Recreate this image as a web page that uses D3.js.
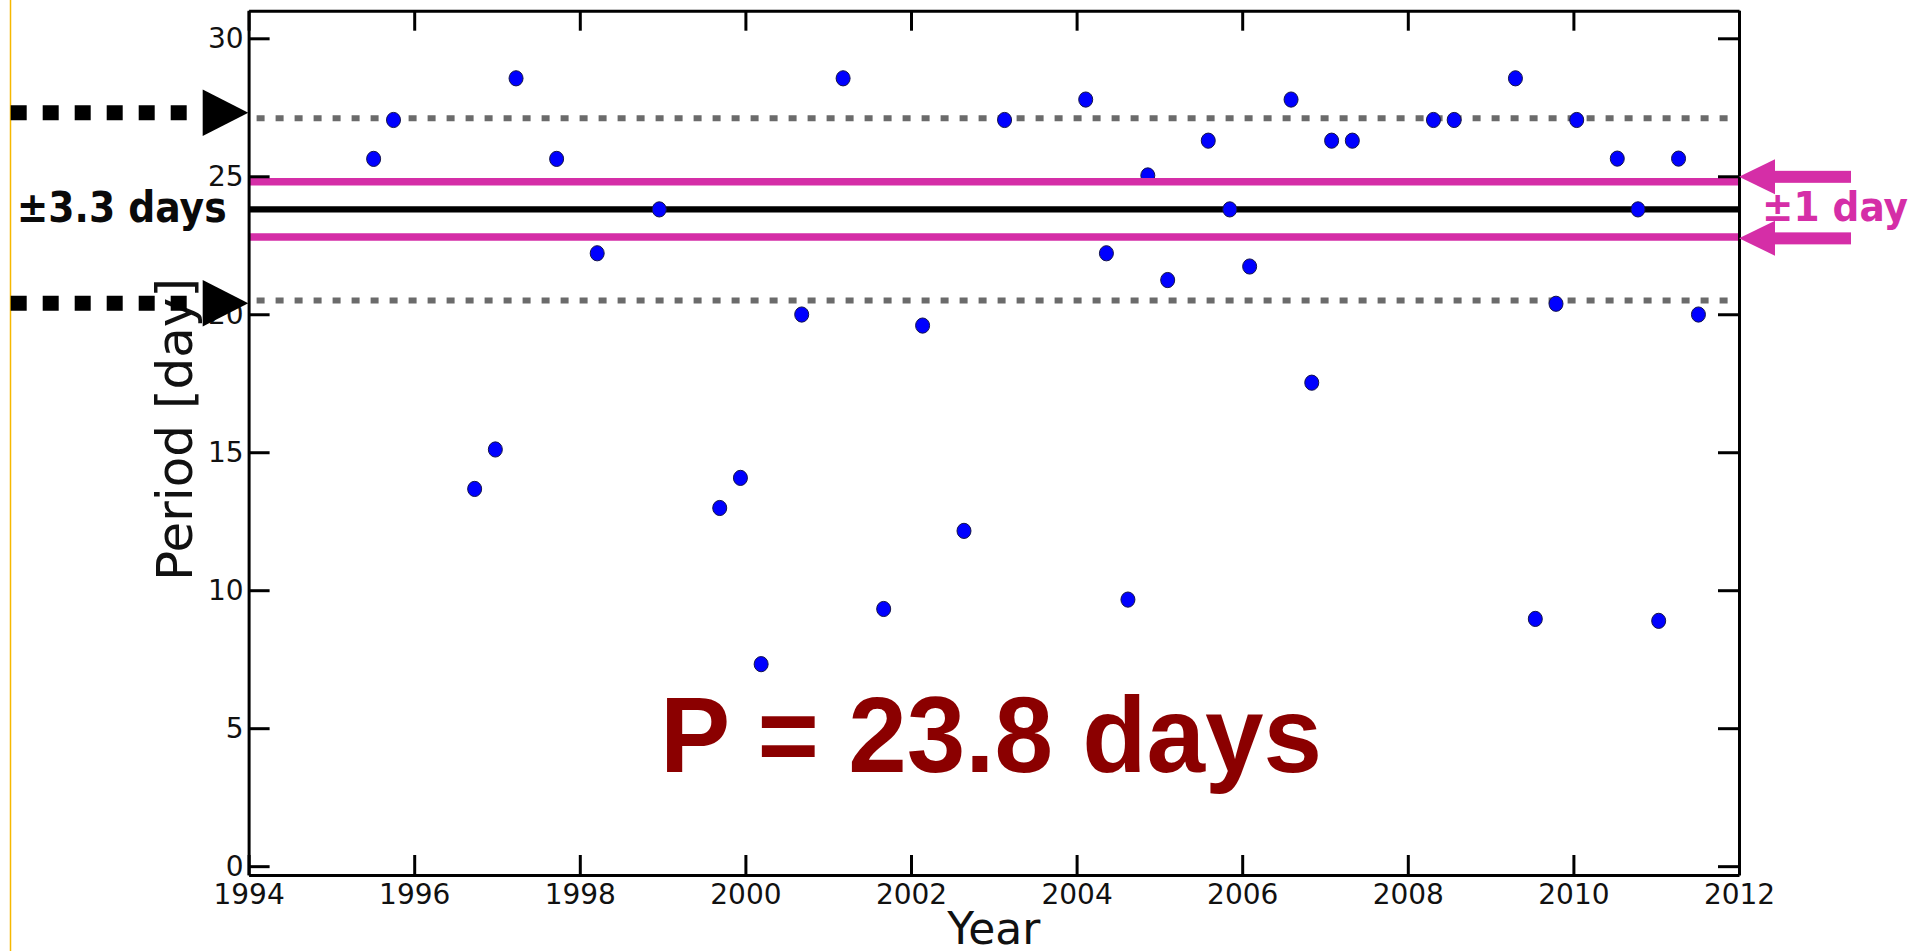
<!DOCTYPE html>
<html><head><meta charset="utf-8">
<script src="https://cdn.jsdelivr.net/npm/d3@7"></script>
<style>html,body{margin:0;padding:0;background:#fff;overflow:hidden}</style>
</head><body>
<svg id="chart" width="1930" height="951"></svg>
<script>
// ---- data ----
const years = [1995.51,1995.75,1996.73,1996.98,1997.23,1997.72,1998.21,1998.96,1999.69,1999.94,
  2000.19,2000.68,2001.18,2001.67,2002.14,2002.64,2003.13,2004.11,2004.36,2004.62,
  2004.86,2005.10,2005.59,2005.85,2006.09,2006.59,2006.84,2007.08,2007.33,2008.31,
  2008.56,2009.30,2009.54,2009.79,2010.04,2010.53,2010.78,2011.03,2011.27,2011.51];
const periods = [25.63,27.04,13.67,15.10,28.55,25.63,22.21,23.80,12.98,14.07,
  7.32,19.99,28.55,9.32,19.59,12.15,27.04,27.78,22.21,9.66,
  25.03,21.24,26.29,23.80,21.73,27.78,17.52,26.29,26.29,27.04,
  27.04,28.55,8.96,20.38,27.04,25.64,23.80,8.89,25.64,19.99];
const xTickValues = [1994,1996,1998,2000,2002,2004,2006,2008,2010,2012];
const yTickValues = [0,5,10,15,20,25,30];
const meanPeriod = 23.8;
const spread = 3.3;
const band = 1;
const leftArrowLevels = [27.3, 20.4];
const rightArrowLevels = [24.98, 22.75];
const mainLabel = "P = 23.8 days";
const spreadLabel = "±3.3 days";
const bandLabel = "±1 day";
const xTitle = "Year";
const yTitle = "Period [day]";

// ---- layout ----
const plot = {left:248.6, right:1739, top:10.7, bottom:875};
const magenta = "#d52ea7";
const svg = d3.select("#chart");
const x = d3.scaleLinear().domain([1994, 2012]).range([plot.left, plot.right]);
const y = d3.scaleLinear().domain([-0.32, 31]).range([plot.bottom, plot.top]);

// yellow edge line
svg.append("line").attr("x1",10.5).attr("x2",10.5).attr("y1",0).attr("y2",951)
  .attr("stroke","#f6b800").attr("stroke-width",1.5);

const g = svg.append("g");

// gray dotted +-spread lines
[meanPeriod + spread, meanPeriod - spread].forEach(v => {
  g.append("line").attr("x1", plot.left + 8).attr("x2", plot.right).attr("y1", y(v)).attr("y2", y(v))
    .attr("stroke","#6b6b6b").attr("stroke-width",6).attr("stroke-dasharray","8,11");
});
// black mean line
g.append("line").attr("x1", plot.left).attr("x2", plot.right).attr("y1", y(meanPeriod)).attr("y2", y(meanPeriod))
  .attr("stroke","#000").attr("stroke-width",6.3);

// dots
g.selectAll("ellipse.pt").data(years.map((d,i)=>[d, periods[i]])).enter().append("ellipse")
  .attr("class","pt")
  .attr("cx", d => x(d[0])).attr("cy", d => y(d[1]))
  .attr("rx", 7).attr("ry", 7.6)
  .attr("fill","#0000ff").attr("stroke","#14144a").attr("stroke-width",1);

// magenta +-band lines
[meanPeriod + band, meanPeriod - band].forEach(v => {
  g.append("line").attr("x1", plot.left).attr("x2", plot.right).attr("y1", y(v)).attr("y2", y(v))
    .attr("stroke", magenta).attr("stroke-width",7.5);
});

// axes (inward ticks)
const fmt = d3.format("d");
const axB = svg.append("g").attr("transform",`translate(0,${plot.bottom})`)
  .call(d3.axisBottom(x).tickValues(xTickValues).tickFormat(fmt).tickSizeInner(-20).tickSizeOuter(0).tickPadding(9));
const axT = svg.append("g").attr("transform",`translate(0,${plot.top})`)
  .call(d3.axisTop(x).tickValues(xTickValues).tickFormat("").tickSizeInner(-20).tickSizeOuter(0));
const axL = svg.append("g").attr("transform",`translate(${plot.left},0)`)
  .call(d3.axisLeft(y).tickValues(yTickValues).tickFormat(fmt).tickSizeInner(-21).tickSizeOuter(0).tickPadding(5));
const axR = svg.append("g").attr("transform",`translate(${plot.right},0)`)
  .call(d3.axisRight(y).tickValues(yTickValues).tickFormat("").tickSizeInner(-21).tickSizeOuter(0));
[axB, axT, axL, axR].forEach(a => {
  a.select(".domain").attr("stroke","#000").attr("stroke-width",3);
  a.selectAll(".tick line").attr("stroke","#000").attr("stroke-width",3);
  a.selectAll(".tick text").attr("font-family","DejaVu Sans").attr("font-size",28).attr("fill","#111");
});

// axis titles
svg.append("text").attr("x", (plot.left+plot.right)/2).attr("y", 944).attr("text-anchor","middle")
  .attr("font-family","DejaVu Sans").attr("font-size",44).attr("fill","#111").text(xTitle);
svg.append("text").attr("transform","translate(192,429.5) rotate(-90)").attr("text-anchor","middle")
  .attr("font-family","DejaVu Sans").attr("font-size",50).attr("fill","#111").text(yTitle);

// main label
svg.append("text").attr("x",660).attr("y",771.7)
  .attr("font-family","Liberation Sans, Arial, sans-serif").attr("font-weight","bold").attr("font-size",108)
  .attr("textLength",662).attr("lengthAdjust","spacingAndGlyphs")
  .attr("fill","#8b0000").text(mainLabel);

// left black dotted arrows
leftArrowLevels.forEach(v => {
  const yc = y(v);
  svg.append("line").attr("x1",10.7).attr("x2",186.7).attr("y1",yc).attr("y2",yc)
    .attr("stroke","#000").attr("stroke-width",15).attr("stroke-dasharray","16,16");
  svg.append("polygon").attr("points",`202.7,${yc-23.3} 248.3,${yc} 202.7,${yc+23.3}`).attr("fill","#000");
});
svg.append("text").attr("x",16.7).attr("y",221.7)
  .attr("font-family","DejaVu Sans").attr("font-weight","bold").attr("font-size",43)
  .attr("textLength",210).attr("lengthAdjust","spacingAndGlyphs").attr("fill","#0a0a0a").text(spreadLabel);

// right magenta arrows
rightArrowLevels.forEach(v => {
  const yc = y(v);
  svg.append("rect").attr("x",1774).attr("y",yc-6).attr("width",77).attr("height",12).attr("fill",magenta);
  svg.append("polygon").attr("points",`1739,${yc} 1775,${yc-17.5} 1775,${yc+17.5}`).attr("fill",magenta);
});
svg.append("text").attr("x",1762).attr("y",220.7)
  .attr("font-family","DejaVu Sans").attr("font-weight","bold").attr("font-size",40)
  .attr("textLength",146).attr("lengthAdjust","spacingAndGlyphs").attr("fill",magenta).text(bandLabel);
</script>
</body></html>
